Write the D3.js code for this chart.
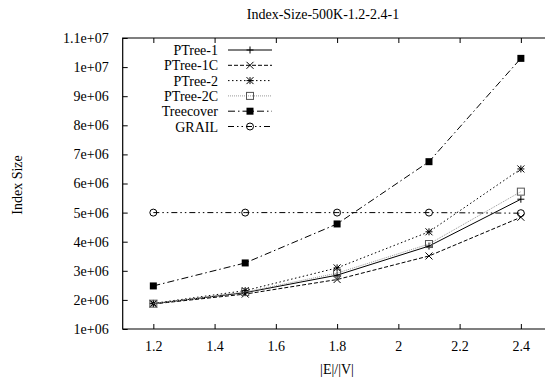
<!DOCTYPE html>
<html>
<head>
<meta charset="utf-8">
<script src="https://cdn.jsdelivr.net/npm/d3@7/dist/d3.min.js"></script>
<style>
  body { margin: 0; background: #fff; }
  svg { display: block; }
  text { font-family: "Liberation Serif", "Times New Roman", serif; font-size: 14px; fill: #000; }
</style>
</head>
<body>
<svg id="chart" width="545" height="383"></svg>
<script>
// ratios |E|/|V|
const ratios = [1.2, 1.5, 1.8, 2.1, 2.4];

// index size per method
const ptree1  = [1.87e6, 2.25e6, 2.85e6, 3.85e6, 5.46e6];
const ptree1c = [1.86e6, 2.20e6, 2.70e6, 3.51e6, 4.84e6];
const ptree2  = [1.88e6, 2.32e6, 3.10e6, 4.34e6, 6.50e6];
const ptree2c = [1.87e6, 2.27e6, 2.92e6, 3.92e6, 5.72e6];
const treecover = [2.48e6, 3.27e6, 4.61e6, 6.75e6, 1.03e7];
const grail   = [5.0e6, 5.0e6, 5.0e6, 5.0e6, 4.98e6];

const xTicks = [1.2, 1.4, 1.6, 1.8, 2, 2.2, 2.4];
const yTicks = [1e6, 2e6, 3e6, 4e6, 5e6, 6e6, 7e6, 8e6, 9e6, 1e7, 1.1e7];

const series = [
  {name: "PTree-1",    values: ptree1,    color: "#000", dash: null,        marker: "plus"},
  {name: "PTree-1C",   values: ptree1c,   color: "#000", dash: "4,2",       marker: "cross"},
  {name: "PTree-2",    values: ptree2,    color: "#000", dash: "1.5,2.5",   marker: "star"},
  {name: "PTree-2C",   values: ptree2c,   color: "#999", dash: "1,1",       marker: "square"},
  {name: "Treecover",  values: treecover, color: "#000", dash: "7,3,1.5,3", marker: "fsquare"},
  {name: "GRAIL",      values: grail,     color: "#000", dash: "6,3,1.5,3,1.5,3", marker: "circle"}
];

const svg = d3.select("#chart");
const plotLeft = 122.7, plotTop = 38, plotBottom = 329;

const x = d3.scaleLinear().domain([1.1, 2.5]).range([plotLeft, 551.5]);
const y = d3.scaleLinear().domain([1e6, 1.1e7]).range([plotBottom, plotTop]);

const fmt = v => {
  const e = Math.floor(Math.log10(v) + 1e-9);
  const m = +(v / Math.pow(10, e)).toFixed(2);
  return m + "e+" + String(e).padStart(2, "0");
};

// axes with inward ticks
const g = svg.append("g");
g.append("g")
  .attr("transform", "translate(0," + plotBottom + ")")
  .call(d3.axisBottom(x).tickValues(xTicks).tickSize(-5).tickPadding(12).tickFormat(d => String(d)))
  .call(a => a.select(".domain").remove());
g.append("g")
  .attr("transform", "translate(0," + plotTop + ")")
  .call(d3.axisTop(x).tickValues(xTicks).tickSize(-5).tickFormat(""))
  .call(a => a.select(".domain").remove());
g.append("g")
  .attr("transform", "translate(" + plotLeft + ",0)")
  .call(d3.axisLeft(y).tickValues(yTicks).tickSize(-5).tickPadding(14).tickFormat(fmt))
  .call(a => a.select(".domain").remove());

g.selectAll("g").attr("font-family", null).attr("font-size", null);
g.selectAll(".tick line").attr("stroke", "#000");

// frame
svg.append("path")
  .attr("d", "M560," + plotTop + "H" + plotLeft + "V" + plotBottom + "H560")
  .attr("fill", "none").attr("stroke", "#000").attr("stroke-width", 1.2);

// titles
svg.append("text").attr("x", 323).attr("y", 19).attr("text-anchor", "middle").text("Index-Size-500K-1.2-2.4-1");
svg.append("text").attr("x", 337).attr("y", 374).attr("text-anchor", "middle").text("|E|/|V|");
svg.append("text").attr("transform", "translate(22,185) rotate(-90)").attr("text-anchor", "middle").text("Index Size");

function drawMarker(sel, type, cx, cy) {
  const s = 3.5;
  const c = type === "square" ? "#555" : "#000";
  if (type === "plus") {
    sel.append("path").attr("d", `M${cx - s},${cy}H${cx + s}M${cx},${cy - s}V${cy + s}`).attr("stroke", c).attr("fill", "none");
  } else if (type === "cross") {
    sel.append("path").attr("d", `M${cx - s},${cy - s}L${cx + s},${cy + s}M${cx - s},${cy + s}L${cx + s},${cy - s}`).attr("stroke", c).attr("fill", "none");
  } else if (type === "star") {
    sel.append("path").attr("d", `M${cx - s},${cy}H${cx + s}M${cx},${cy - s}V${cy + s}M${cx - s},${cy - s}L${cx + s},${cy + s}M${cx - s},${cy + s}L${cx + s},${cy - s}`).attr("stroke", c).attr("fill", "none");
  } else if (type === "square") {
    sel.append("rect").attr("x", cx - s).attr("y", cy - s).attr("width", 2 * s).attr("height", 2 * s).attr("fill", "none").attr("stroke", c);
  } else if (type === "fsquare") {
    sel.append("rect").attr("x", cx - s).attr("y", cy - s).attr("width", 2 * s).attr("height", 2 * s).attr("fill", c);
  } else if (type === "circle") {
    sel.append("circle").attr("cx", cx).attr("cy", cy).attr("r", s).attr("fill", "none").attr("stroke", c);
  }
}

const line = d3.line().x((d, i) => x(ratios[i])).y(d => y(d));

series.forEach((s, k) => {
  const sg = svg.append("g");
  sg.append("path")
    .attr("d", line(s.values))
    .attr("fill", "none")
    .attr("stroke", s.color)
    .attr("stroke-width", 1)
    .attr("stroke-dasharray", s.dash);
  s.values.forEach((v, i) => drawMarker(sg, s.marker, x(ratios[i]), y(v)));

  // legend entry
  const ly = 50 + k * 15.3;
  svg.append("text").attr("x", 218).attr("y", ly + 5).attr("text-anchor", "end").text(s.name);
  svg.append("path").attr("d", `M228,${ly}H272`)
    .attr("fill", "none").attr("stroke", s.color).attr("stroke-width", 1).attr("stroke-dasharray", s.dash);
  drawMarker(svg, s.marker, 250, ly);
});
</script>
</body>
</html>
